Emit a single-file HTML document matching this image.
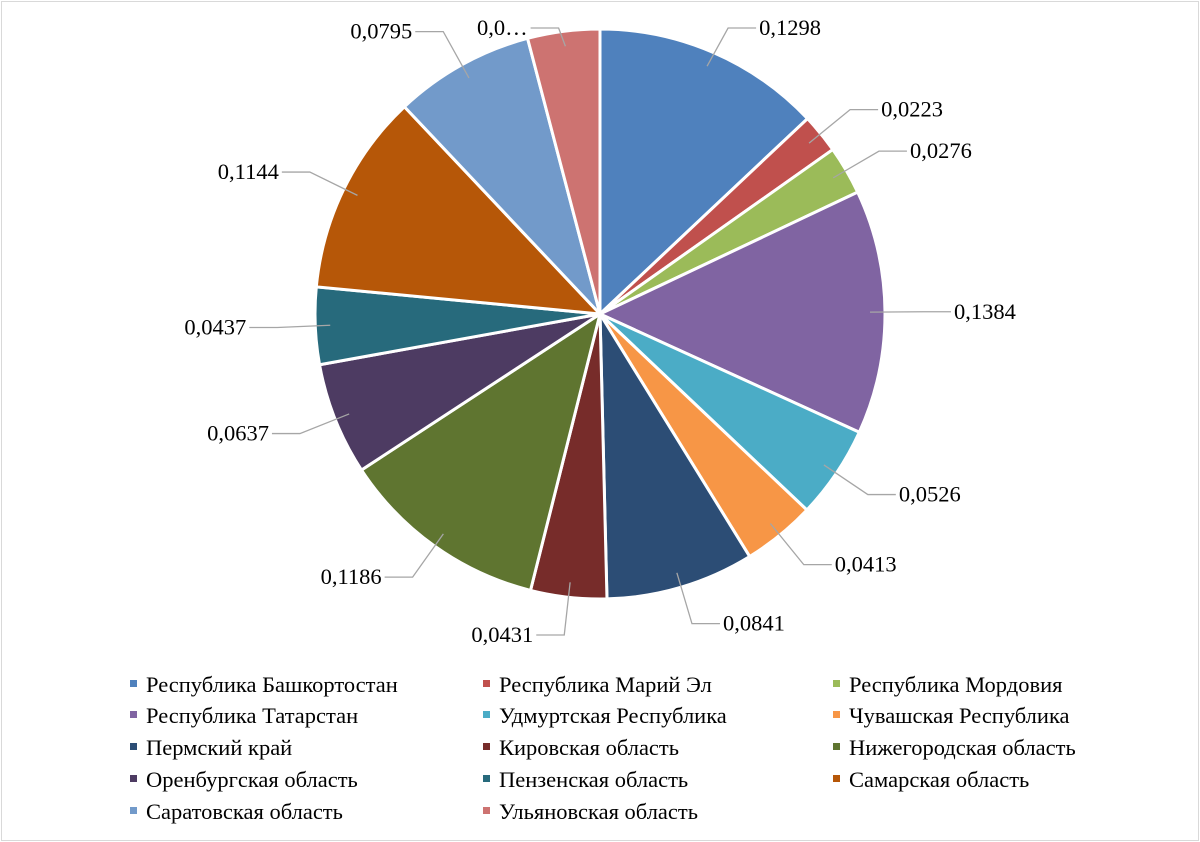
<!DOCTYPE html>
<html><head><meta charset="utf-8">
<style>
html,body{margin:0;padding:0;background:#fff;}
body{width:1200px;height:842px;overflow:hidden;font-family:"Liberation Serif",serif;}
#frame{position:absolute;left:1px;top:1px;width:1196px;height:838px;border:1px solid #d9d9d9;}
</style></head>
<body>
<div id="frame"></div>
<svg id="chart" width="1200" height="842" style="position:absolute;left:0;top:0"></svg>
<script>
const categories=["Республика Башкортостан","Республика Марий Эл","Республика Мордовия","Республика Татарстан","Удмуртская Республика","Чувашская Республика","Пермский край","Кировская область","Нижегородская область","Оренбургская область","Пензенская область","Самарская область","Саратовская область","Ульяновская область"];
const values=[0.1298,0.0223,0.0276,0.1384,0.0526,0.0413,0.0841,0.0431,0.1186,0.0637,0.0437,0.1144,0.0795,0.0409];
const labels=["0,1298","0,0223","0,0276","0,1384","0,0526","0,0413","0,0841","0,0431","0,1186","0,0637","0,0437","0,1144","0,0795","0,0…"];
const colors=["#4F81BD","#C0504D","#9BBB59","#8064A2","#4BACC6","#F79646","#2C4D75","#772C2A","#5F7530","#4D3B62","#276A7C","#B65708","#729ACA","#CD7371"];
const svg=document.getElementById('chart');
const NS='http://www.w3.org/2000/svg';
const cx=600,cy=314,R=285;
const total=values.reduce((a,b)=>a+b,0);
function pt(a,r){return [cx+r*Math.sin(a),cy-r*Math.cos(a)];}
let acc=0;
values.forEach((v,i)=>{
  const a0=acc/total*2*Math.PI; acc+=v; const a1=acc/total*2*Math.PI;
  const p0=pt(a0,R),p1=pt(a1,R);
  const large=(a1-a0)>Math.PI?1:0;
  const path=document.createElementNS(NS,'path');
  path.setAttribute('d',`M${cx},${cy}L${p0[0]},${p0[1]}A${R},${R} 0 ${large} 1 ${p1[0]},${p1[1]}Z`);
  path.setAttribute('fill',colors[i]);path.setAttribute('stroke','#fff');path.setAttribute('stroke-width','3');
  
  
  svg.appendChild(path);
});
acc=0;
values.forEach((v,i)=>{
  const am=(acc+v/2)/total*2*Math.PI; acc+=v;
  const e=pt(am,R-15), m=pt(am,R+38);
  m[1]=Math.max(m[1],28);
  const right=Math.sin(am)>=0;
  const hx=m[0]+(right?28:-28);
  const ln=document.createElementNS(NS,'polyline');
  ln.setAttribute('points',`${e[0]},${e[1]} ${m[0]},${m[1]} ${hx},${m[1]}`);
  ln.setAttribute('fill','none');ln.setAttribute('stroke','#a6a6a6');ln.setAttribute('stroke-width','1.3');
  
  
  svg.appendChild(ln);
  const t=document.createElementNS(NS,'text');
  t.setAttribute('x',hx+(right?3:-3));t.setAttribute('y',m[1]+7);
  t.setAttribute('text-anchor',right?'start':'end');
  t.setAttribute('font-size','22.5');t.setAttribute('font-family','"Liberation Serif",serif');
  t.textContent=labels[i];
  
  
  svg.appendChild(t);
});
const colX=[130,483,833],rowY=[684,715,747,779,811];
categories.forEach((c,i)=>{
  const x=colX[i%3],y=rowY[Math.floor(i/3)];
  const g=document.createElementNS(NS,'g');
  
  
  const r=document.createElementNS(NS,'rect');
  r.setAttribute('x',x);r.setAttribute('y',y-4);r.setAttribute('width',7);r.setAttribute('height',7);r.setAttribute('fill',colors[i]);
  const t=document.createElementNS(NS,'text');
  t.setAttribute('x',x+16);t.setAttribute('y',y+8);t.setAttribute('font-size','22.5');
  t.setAttribute('font-family','"Liberation Serif",serif');t.textContent=c;
  g.appendChild(r);g.appendChild(t);svg.appendChild(g);
});
</script>
</body></html>
